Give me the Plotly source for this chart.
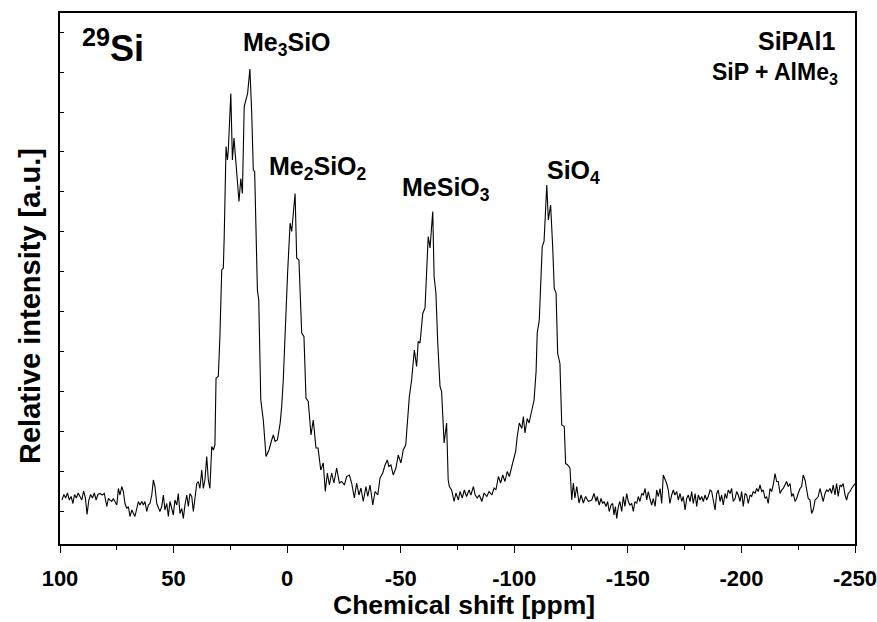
import plotly.graph_objects as go

# Chemical shift (ppm) and relative intensity (a.u.)
shift_ppm = [
    99.1, 98.3, 97.5, 96.7, 95.9, 95.1, 94.3, 93.6, 92.8, 92.0, 91.2, 90.4, 89.6, 88.8, 88.1, 87.3,
    86.5, 85.7, 84.9, 84.1, 83.3,
    82.4, 81.4, 80.5, 79.4, 78.7, 78.0, 77.2, 76.5, 75.8, 75.0, 74.3, 73.6, 72.8, 72.1, 71.4, 70.6,
    69.9, 69.2, 68.4, 67.7, 67.0, 66.2, 65.5, 64.8, 64.0, 63.3, 62.6, 61.8, 61.1, 60.4, 59.6, 58.9,
    58.2, 57.4, 56.7, 56.0, 55.2, 54.5, 53.8, 53.0, 52.3, 51.6, 50.8, 50.1, 49.4, 48.6, 47.9, 47.2,
    46.4, 45.7, 45.0, 44.2, 43.5, 42.8, 42.0, 41.3, 40.6, 39.8, 39.1, 38.4, 37.6, 36.9, 36.2, 35.4,
    34.7, 34.0, 33.2, 32.5, 31.8, 31.3, 30.3, 29.6, 28.8, 28.1, 27.7, 26.9, 26.3, 25.9, 24.8, 24.1,
    23.4, 22.6, 21.9, 21.2, 20.4, 19.7, 18.9, 18.2, 17.4, 16.4, 15.6, 14.9, 14.3, 13.1, 12.5, 11.6,
    10.5, 9.3, 8.0, 6.8, 6.1, 5.3, 4.3, 3.1, 2.4, 1.7, 0.5, -0.2, -1.3, -2.0, -2.7, -3.5,
    -4.2, -5.2, -6.4, -7.4, -8.3, -9.3, -10.5, -11.5, -12.7, -13.6, -14.8, -15.9, -16.8, -17.7, -18.6, -19.6,
    -20.6, -21.8, -23.0, -24.0, -25.2, -26.2, -27.4, -28.4, -29.6, -30.6, -31.6, -32.5, -33.5, -34.7, -35.5, -36.5,
    -37.7, -38.7, -39.9, -40.9, -42.1, -43.1, -44.1, -44.8, -45.7, -46.7, -47.9, -48.9, -50.1, -51.1, -52.2, -52.6,
    -53.8, -54.8, -56.0, -57.0, -57.7, -58.5, -59.7, -60.7, -61.4, -62.1, -62.9, -64.1, -64.7, -65.5, -66.3, -67.3,
    -68.0, -69.1, -70.2, -70.9, -71.4, -72.4, -73.5, -74.3, -75.4, -76.1, -77.1, -78.0, -79.0, -80.1, -80.9, -82.0,
    -82.8, -83.7, -84.6, -85.7, -86.7, -87.9, -88.9, -90.1, -91.1, -91.9, -93.0, -94.0, -94.9, -95.9, -96.9, -97.8,
    -98.9, -99.6, -100.6, -101.3, -102.2, -103.3, -104.0, -104.7, -105.7, -106.5, -107.7, -108.7, -109.6, -110.1, -111.0, -111.8,
    -112.3, -113.1, -113.7, -114.3, -115.0, -116.0, -116.9, -117.6, -118.4, -119.1, -120.1, -120.9, -122.0, -122.6, -123.5, -124.5,
    -125.3, -126.0, -126.7, -127.5, -128.5, -129.4, -130.4, -131.4, -132.6, -134.1, -135.1, -136.0, -136.5, -137.4, -138.2, -138.9,
    -139.5, -140.4, -141.1, -141.8, -142.6, -143.3, -143.9, -144.5, -145.1, -145.8, -146.5, -147.3, -148.0, -148.7, -149.5, -150.2,
    -150.9, -151.7, -152.4, -153.1, -153.9, -154.6, -155.3, -156.1, -156.8, -157.6, -158.3, -159.0, -159.7, -160.5, -161.2, -162.0,
    -162.7, -163.4, -164.2, -164.9, -165.6, -166.3, -167.1, -167.8, -168.5, -169.3, -170.0, -170.7, -171.5, -172.2, -173.0, -173.7,
    -174.4, -175.2, -175.9, -176.6, -177.4, -178.1, -178.8, -179.6, -180.3, -181.0, -181.8, -182.5, -183.2, -184.0, -184.7, -185.4,
    -186.2, -186.9, -187.6, -188.4, -189.1, -189.8, -190.6, -191.3, -192.0, -192.8, -193.5, -194.2, -195.0, -195.7, -196.4, -197.2,
    -197.9, -198.6, -199.4, -200.1, -200.8, -201.6, -202.3, -203.0, -203.8, -204.5, -205.2, -206.0, -206.7, -207.4, -208.2, -208.9,
    -209.6, -210.4, -211.1, -211.8, -212.6, -213.3, -214.0, -214.8, -215.5, -216.2, -217.0, -217.7, -218.4, -219.2, -219.9, -220.6,
    -221.4, -222.1, -222.8, -223.6, -224.3, -225.0, -225.8, -226.5, -227.2, -228.0, -228.7, -229.4, -230.2, -230.9, -231.6, -232.4,
    -233.1, -233.8, -234.6, -235.3, -236.0, -236.8, -237.5, -238.2, -239.0, -239.7, -240.4, -241.2, -241.9, -242.6, -243.4, -244.1,
    -244.8, -245.6, -246.3, -247.0, -247.8, -248.5, -249.2, -250.0,
]

intensity = [
    8.8, 9.9, 9.2, 10.2, 8.8, 9.5, 8.1, 9.9, 9.2, 10.2, 9.5, 8.8, 10.6, 9.2, 5.9, 8.8,
    9.9, 9.2, 10.2, 8.8, 9.9,
    10.1, 9.8, 10.1, 7.5, 9.1, 8.8, 8.5, 9.1, 8.5, 7.8, 11.1, 9.8, 11.5, 10.5, 8.1, 7.1,
    7.5, 5.5, 6.8, 6.1, 5.5, 7.1, 8.5, 7.8, 8.5, 7.8, 8.5, 6.5, 7.8, 8.1, 9.8, 12.8,
    11.5, 8.1, 7.1, 6.5, 7.5, 9.8, 6.8, 8.1, 5.5, 8.5, 7.1, 5.8, 8.8, 7.8, 10.1, 6.1,
    7.1, 5.1, 7.8, 9.8, 7.5, 10.1, 9.5, 6.5, 9.1, 12.1, 12.5, 11.1, 14.8, 11.1, 12.8, 17.5,
    12.8, 11.1, 19.5, 18.8, 19.8, 33.2, 33.5, 41.5, 54.8, 55.2, 61.5, 79.5, 76.8, 78.8, 90.1, 76.8,
    81.2, 76.8, 71.5, 68.5, 73.1, 70.1, 87.5, 88.8, 90.1, 95.0, 86.2, 74.8, 74.5, 50.8, 48.8, 28.8,
    24.8, 17.5, 18.8, 20.8, 21.8, 20.5, 20.8, 24.1, 27.5, 32.8, 48.2, 54.2, 64.2, 62.5, 66.1, 70.1,
    57.2, 56.8, 42.2, 41.5, 29.2, 28.5, 21.8, 24.8, 19.2, 19.2, 14.8, 16.2, 10.5, 14.2, 11.8, 14.2,
    12.2, 15.2, 12.2, 12.5, 11.8, 13.5, 13.8, 12.2, 9.2, 12.2, 9.8, 11.2, 8.5, 11.5, 9.5, 11.8,
    7.8, 10.5, 9.8, 13.2, 14.2, 15.8, 16.8, 15.5, 15.8, 13.8, 15.2, 17.8, 16.2, 18.8, 19.8, 22.2,
    29.5, 32.8, 38.8, 35.5, 40.5, 40.2, 46.1, 47.2, 55.2, 61.5, 59.2, 66.5, 53.5, 50.2, 40.2, 31.5,
    30.5, 20.2, 24.2, 12.8, 11.5, 10.8, 8.5, 10.2, 8.8, 10.5, 9.2, 10.8, 9.5, 10.8, 9.8, 11.5,
    9.8, 9.2, 9.8, 8.5, 10.2, 9.5, 10.5, 9.8, 11.2, 10.8, 13.5, 12.2, 13.8, 12.5, 14.5, 13.5,
    15.5, 16.8, 18.5, 21.5, 24.2, 23.1, 25.5, 22.2, 25.1, 24.2, 27.1, 28.8, 34.5, 42.2, 44.8, 54.8,
    59.5, 60.5, 66.1, 71.8, 64.8, 67.8, 59.5, 51.1, 50.2, 38.1, 36.1, 23.8, 23.5, 16.1, 15.8, 15.2,
    8.8, 12.2, 9.2, 11.5, 8.2, 9.8, 8.2, 9.5, 8.5, 8.8, 10.1, 8.5, 9.5, 7.8, 9.1, 8.1,
    8.5, 7.5, 8.5, 6.5, 7.8, 8.1, 5.8, 7.5, 5.1, 7.5, 8.5, 6.5, 9.5, 7.5, 10.1, 8.5,
    7.8, 8.1, 6.5, 8.5, 8.1, 9.5, 8.5, 10.1, 9.8, 11.1, 8.8, 10.5, 9.1, 7.8, 9.1, 7.5,
    10.8, 9.5, 11.1, 8.1, 13.8, 13.1, 12.1, 10.8, 8.1, 9.8, 10.8, 9.8, 10.5, 8.8, 10.1, 8.5,
    9.5, 6.8, 9.1, 9.8, 8.5, 10.5, 8.1, 10.1, 7.5, 9.8, 8.8, 9.5, 8.5, 9.8, 8.8, 9.5,
    10.8, 10.5, 8.8, 6.8, 10.1, 10.8, 8.5, 9.8, 7.8, 10.1, 9.1, 10.8, 10.1, 11.1, 8.5, 9.1,
    10.5, 9.8, 8.5, 10.5, 7.5, 10.1, 9.8, 8.1, 9.8, 9.5, 10.5, 10.1, 11.1, 10.5, 11.8, 10.5,
    10.8, 9.1, 9.5, 8.1, 11.1, 10.5, 11.8, 14.1, 12.5, 12.5, 10.1, 10.8, 11.1, 11.8, 12.5, 11.5,
    12.1, 9.5, 10.1, 8.5, 9.1, 10.1, 11.1, 11.5, 13.8, 12.8, 11.1, 9.1, 8.8, 6.1, 6.8, 8.8,
    9.1, 9.5, 11.1, 9.8, 8.5, 10.1, 10.8, 10.5, 11.1, 10.1, 11.8, 9.8, 12.1, 9.5, 11.8, 11.5,
    12.1, 9.8, 8.8, 10.1, 10.5, 11.1, 11.5, 12.1,
]

x_tick_vals = [100, 50, 0, -50, -100, -150, -200, -250]
x_tick_text = ["100", "50", "0", "-50", "-100", "-150", "-200", "-250"]
x_minor_vals = [75, 25, -25, -75, -125, -175, -225]

peak_labels = ["Me<sub>3</sub>SiO", "Me<sub>2</sub>SiO<sub>2</sub>", "MeSiO<sub>3</sub>", "SiO<sub>4</sub>"]
nucleus_label = "<sup>29</sup>Si"
sample_labels = ["SiPAl1", "SiP + AlMe<sub>3</sub>"]
x_title = "Chemical shift [ppm]"
y_title = "Relative intensity [a.u.]"

FONT = "Liberation Sans, Arial, sans-serif"

W, H = 877, 622
L, R, T, B = 60, 22, 13, 78
pw, ph = W - L - R, H - T - B


def px(xp):
    return (xp - L) / pw


def py(yp):
    return (H - B - yp) / ph


def bold(size):
    return dict(family=FONT, size=size, color="black", weight="bold")


fig = go.Figure()
fig.add_trace(go.Scatter(
    x=shift_ppm, y=intensity, mode="lines",
    line=dict(color="black", width=1.1), showlegend=False, hoverinfo="skip",
))

label_pos = [(287, 44), (318, 168), (446, 189), (573, 172)]
for txt, (xp, yp) in zip(peak_labels, label_pos):
    fig.add_annotation(text=txt, x=px(xp), y=py(yp), xref="paper", yref="paper",
                       showarrow=False, xanchor="center", yanchor="middle", font=bold(25))

fig.add_annotation(text=nucleus_label, x=px(80), y=py(46), xref="paper", yref="paper",
                   showarrow=False, xanchor="left", yanchor="middle", font=bold(36))
fig.add_annotation(text=sample_labels[0], x=px(837), y=py(41), xref="paper", yref="paper",
                   showarrow=False, xanchor="right", yanchor="middle", font=bold(25))
fig.add_annotation(text=sample_labels[1], x=px(840), y=py(74), xref="paper", yref="paper",
                   showarrow=False, xanchor="right", yanchor="middle", font=bold(23))

fig.add_annotation(text=x_title, x=px(464), y=py(605), xref="paper", yref="paper",
                   showarrow=False, xanchor="center", yanchor="middle", font=bold(26.5))
fig.add_annotation(text=y_title, x=px(30), y=py(306), xref="paper", yref="paper",
                   showarrow=False, xanchor="center", yanchor="middle", textangle=-90,
                   font=bold(29))

fig.update_layout(
    width=W, height=H,
    margin=dict(l=L, r=R, t=T, b=B, autoexpand=False),
    paper_bgcolor="white", plot_bgcolor="white",
    font=dict(family=FONT, color="black"),
    xaxis=dict(
        range=[100, -250], showgrid=False, zeroline=False, automargin=False,
        showline=True, linecolor="black", linewidth=1.6, mirror=True,
        tickmode="array", tickvals=x_tick_vals, ticktext=x_tick_text,
        ticks="outside", ticklen=7, tickwidth=1.3, tickcolor="black",
        minor=dict(tickmode="array", tickvals=x_minor_vals, ticks="outside",
                   ticklen=4, tickwidth=1.3, tickcolor="black"),
        tickfont=bold(22), ticklabelstandoff=7, ticklabeloverflow="allow",
    ),
    yaxis=dict(
        range=[0, 106.2], showgrid=False, zeroline=False, automargin=False,
        showline=True, linecolor="black", linewidth=1.6, mirror=True,
        tickmode="linear", tick0=6.6, dtick=7.98,
        ticks="inside", ticklen=4, tickwidth=1.2, tickcolor="black",
        showticklabels=False,
    ),
)

fig.write_html(
    "out.html",
    config={"displayModeBar": False},
    post_script="document.body.style.margin='0';document.body.style.overflow='hidden';",
)
